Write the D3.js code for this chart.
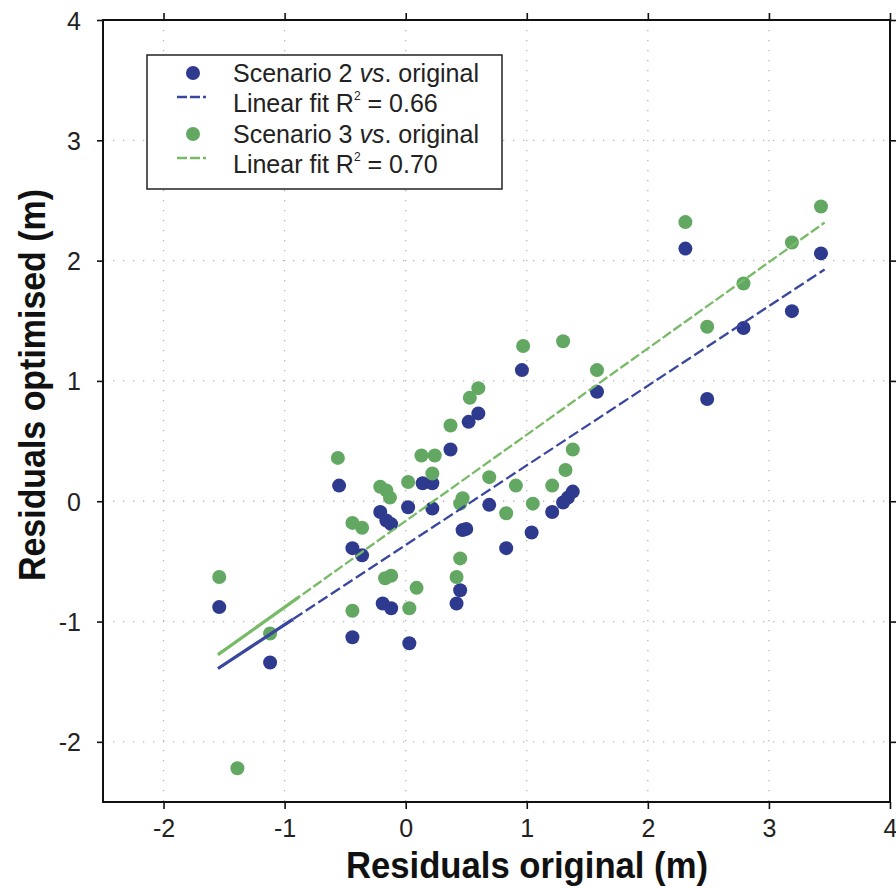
<!DOCTYPE html>
<html><head><meta charset="utf-8">
<script src="https://cdn.jsdelivr.net/npm/d3@7/dist/d3.min.js"></script>
<style>body{margin:0;background:#fff}svg{display:block}</style>
</head><body>
<svg id="chart" width="896" height="888"></svg>
<script>
// ---- data ----
const xTicks = [-2, -1, 0, 1, 2, 3, 4];
const yTicks = [-2, -1, 0, 1, 2, 3, 4];
const xDomain = [-2.5, 4];
const yDomain = [-2.5, 4];

const s2x = [-1.54,-1.12,-0.55,-0.44,-0.36,-0.44,-0.21,-0.16,-0.12,0.02,0.14,0.22,0.22,-0.19,-0.12,0.03,0.37,0.96,0.60,0.52,0.69,0.47,0.50,0.83,1.04,1.21,1.30,1.34,1.38,0.45,0.42,1.58,2.31,3.43,3.19,2.79,2.49];
const s2y = [-0.88,-1.34,0.13,-0.39,-0.45,-1.13,-0.09,-0.16,-0.19,-0.05,0.15,0.15,-0.06,-0.85,-0.89,-1.18,0.43,1.09,0.73,0.66,-0.03,-0.24,-0.23,-0.39,-0.26,-0.09,-0.01,0.03,0.08,-0.74,-0.85,0.91,2.10,2.06,1.58,1.44,0.85];

const s3x = [-1.54,-1.12,-1.39,-0.56,-0.21,-0.16,-0.13,0.02,0.13,0.24,0.22,-0.44,-0.36,-0.17,-0.12,0.09,-0.44,0.03,0.60,0.53,0.37,0.47,0.45,0.69,0.91,0.83,1.05,1.21,1.32,1.38,0.45,0.42,1.58,0.97,1.30,2.31,3.43,3.19,2.79,2.49];
const s3y = [-0.63,-1.10,-2.22,0.36,0.12,0.09,0.03,0.16,0.38,0.38,0.23,-0.18,-0.22,-0.64,-0.62,-0.72,-0.91,-0.89,0.94,0.86,0.63,0.025,-0.02,0.20,0.13,-0.10,-0.02,0.13,0.26,0.43,-0.475,-0.63,1.09,1.29,1.33,2.32,2.45,2.15,1.81,1.45];

const fitSlope = [0.662, 0.717];
const fitIntercept = [-0.364, -0.164];
const fitXStart = [-1.55, -1.55];
const fitXEnd = [3.46, 3.46];
const fitSolidEnd = [-0.93, -0.88];

const legendLabels = ["Scenario 2 ", "Linear fit R", "Scenario 3 ", "Linear fit R"];
const r2Values = ["0.66", "0.70"];

// ---- styles ----
const blue = "#2e3a8e", green = "#62a862";
const blueLine = "#3a479e", greenLine = "#78bb66";
const font = "Arial, 'Liberation Sans', sans-serif";

const svg = d3.select("#chart");
const L = 103, R = 890, T = 20, B = 802;
const x = d3.scaleLinear().domain(xDomain).range([L, R]);
const y = d3.scaleLinear().domain(yDomain).range([B, T]);

// gridlines
const grid = svg.append("g");
grid.selectAll("line.gx").data(xTicks.filter(d => d > xDomain[0] && d < xDomain[1])).join("line")
  .attr("x1", d => x(d)).attr("x2", d => x(d)).attr("y1", T).attr("y2", B)
  .attr("stroke", "#b5b5b5").attr("stroke-width", 1.3).attr("stroke-dasharray", "1.3,8.7");
grid.selectAll("line.gy").data(yTicks.filter(d => d > yDomain[0] && d < yDomain[1])).join("line")
  .attr("y1", d => y(d)).attr("y2", d => y(d)).attr("x1", L).attr("x2", R)
  .attr("stroke", "#b5b5b5").attr("stroke-width", 1.3).attr("stroke-dasharray", "1.3,8.7");

// axes
const tickFmt = d => d < 0 ? "-" + Math.abs(d) : String(d);
const axB = svg.append("g").attr("transform", `translate(0,${B})`)
  .call(d3.axisBottom(x).tickValues(xTicks).tickSize(7).tickPadding(10).tickFormat(tickFmt));
const axT = svg.append("g").attr("transform", `translate(0,${T})`)
  .call(d3.axisTop(x).tickValues(xTicks).tickSize(7).tickFormat(""));
const axL = svg.append("g").attr("transform", `translate(${L},0)`)
  .call(d3.axisLeft(y).tickValues(yTicks).tickSize(6).tickPadding(16).tickFormat(tickFmt));
const axR = svg.append("g").attr("transform", `translate(${R},0)`)
  .call(d3.axisRight(y).tickValues(yTicks).tickSize(7).tickFormat(""));
[axB, axT, axL, axR].forEach(a => {
  a.select(".domain").remove();
  a.selectAll(".tick line").attr("stroke", "#111").attr("stroke-width", 1.6);
  a.selectAll("text").attr("font-family", font).attr("font-size", 25).attr("fill", "#222");
});
axL.selectAll("text").attr("dy", "0.36em");
svg.append("rect").attr("x", L).attr("y", T).attr("width", R - L).attr("height", B - T)
  .attr("fill", "none").attr("stroke", "#111").attr("stroke-width", 2);

// points
const plot = svg.append("g");
plot.selectAll("circle.s2").data(d3.range(s2x.length)).join("circle")
  .attr("cx", i => x(s2x[i])).attr("cy", i => y(s2y[i])).attr("r", 7).attr("fill", blue);
plot.selectAll("circle.s3").data(d3.range(s3x.length)).join("circle")
  .attr("cx", i => x(s3x[i])).attr("cy", i => y(s3y[i])).attr("r", 7).attr("fill", green);

// fit lines
const lineCols = [blueLine, greenLine];
const dashes = ["11,4", "10,3"];
fitSlope.forEach((m, k) => {
  const f = v => m * v + fitIntercept[k];
  plot.append("line")
    .attr("x1", x(fitXStart[k])).attr("y1", y(f(fitXStart[k])))
    .attr("x2", x(fitSolidEnd[k])).attr("y2", y(f(fitSolidEnd[k])))
    .attr("stroke", lineCols[k]).attr("stroke-width", 3.2);
  plot.append("line")
    .attr("x1", x(fitXStart[k])).attr("y1", y(f(fitXStart[k])))
    .attr("x2", x(fitXEnd[k])).attr("y2", y(f(fitXEnd[k])))
    .attr("stroke", lineCols[k]).attr("stroke-width", 2.3).attr("stroke-dasharray", dashes[k]);
});

// axis titles
svg.append("text").attr("x", 527).attr("y", 878).attr("text-anchor", "middle")
  .attr("font-family", font).attr("font-weight", "bold").attr("font-size", 36)
  .attr("textLength", 362).attr("lengthAdjust", "spacingAndGlyphs").attr("fill", "#111")
  .text("Residuals original (m)");
svg.append("text").attr("transform", "translate(45,385) rotate(-90)").attr("text-anchor", "middle")
  .attr("font-family", font).attr("font-weight", "bold").attr("font-size", 36)
  .attr("textLength", 392).attr("lengthAdjust", "spacingAndGlyphs").attr("fill", "#111")
  .text("Residuals optimised (m)");

// legend
const lg = svg.append("g");
lg.append("rect").attr("x", 147).attr("y", 55).attr("width", 355).attr("height", 134)
  .attr("fill", "#fff").attr("stroke", "#222").attr("stroke-width", 1.5);
const baselines = [82, 112, 143, 173];
const tx = 233;
[0, 2].forEach((r, k) => {
  lg.append("circle").attr("cx", 193).attr("cy", baselines[r] - 9).attr("r", 7)
    .attr("fill", k === 0 ? blue : green);
  const t = lg.append("text").attr("x", tx).attr("y", baselines[r])
    .attr("font-family", font).attr("font-size", 25).attr("fill", "#222");
  t.append("tspan").text(legendLabels[r]);
  t.append("tspan").attr("font-style", "italic").text("vs");
  t.append("tspan").text(". original");
});
[1, 3].forEach((r, k) => {
  lg.append("line").attr("x1", 177).attr("x2", 206)
    .attr("y1", baselines[r] - 15).attr("y2", baselines[r] - 15)
    .attr("stroke", lineCols[k]).attr("stroke-width", 2.3).attr("stroke-dasharray", "10,3");
  const t = lg.append("text").attr("x", tx).attr("y", baselines[r])
    .attr("font-family", font).attr("font-size", 25).attr("fill", "#222");
  t.append("tspan").text(legendLabels[r]);
  t.append("tspan").attr("font-size", 12).attr("dy", -12).text("2");
  t.append("tspan").attr("dy", 12).text(" = " + r2Values[k]);
});
</script>
</body></html>
